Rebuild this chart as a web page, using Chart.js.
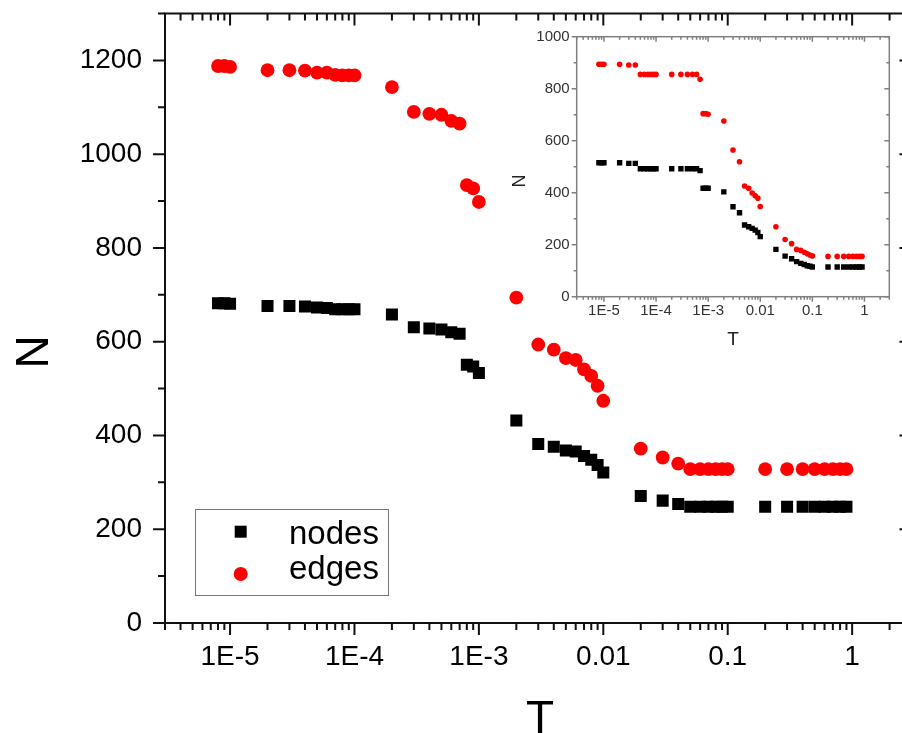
<!DOCTYPE html>
<html lang="en">
<head>
<meta charset="UTF-8" />
<title>N vs T</title>
<script src="https://cdn.jsdelivr.net/npm/chart.js"></script>
<style>
  html, body { margin: 0; padding: 0; background: #fff; overflow: hidden; }
  #wrap { position: relative; width: 902px; height: 733px; overflow: hidden; }
  #mainChart { position: absolute; left: 0; top: 0; }
  #insetChart { position: absolute; left: 480px; top: 26px; }
</style>
</head>
<body>
<div id="wrap">
  <canvas id="mainChart" width="920" height="733"></canvas>
  <canvas id="insetChart" width="420" height="340"></canvas>
</div>
<script>
// ---- data ----
const seriesNames = ["nodes", "edges"];

const tMain = [8e-6, 9e-6, 1e-5,
  2e-5, 3e-5, 4e-5, 5e-5, 6e-5, 7e-5, 8e-5, 9e-5, 1e-4,
  2e-4, 3e-4, 4e-4, 5e-4, 6e-4, 7e-4, 8e-4, 9e-4, 1e-3,
  2e-3, 3e-3, 4e-3, 5e-3, 6e-3, 7e-3, 8e-3, 9e-3, 0.01,
  0.02, 0.03, 0.04, 0.05, 0.06, 0.07, 0.08, 0.09, 0.1,
  0.2, 0.3, 0.4, 0.5, 0.6, 0.7, 0.8, 0.9];
const nodesMain = [682, 682, 681,
  676, 676, 675, 673, 672, 669, 669, 669, 669,
  658, 631, 628, 626, 620, 617, 551, 547, 533,
  432, 382, 376, 368, 366, 356, 348, 337, 321,
  271, 261, 254, 248, 248, 248, 248, 248, 248,
  248, 248, 248, 248, 248, 248, 248, 248];
const edgesMain = [1188, 1188, 1186,
  1179, 1179, 1178, 1174, 1174, 1169, 1168, 1168, 1168,
  1143, 1090, 1086, 1084, 1071, 1065, 934, 927, 898,
  694, 594, 583, 565, 561, 541, 527, 506, 474,
  372, 353, 340, 328, 328, 328, 328, 328, 328,
  328, 328, 328, 328, 328, 328, 328, 328];

const tInset = tMain;
const nodesInset = [515, 515, 515,
  515, 513, 513, 492, 492, 492, 492, 492, 492,
  492, 492, 492, 492, 492, 485, 417, 417, 417,
  403, 346, 323, 276, 269, 263, 256, 247, 231,
  182, 156, 146, 135, 128, 124, 119, 117, 114,
  114, 114, 114, 114, 114, 114, 114, 114];
const edgesInset = [894, 894, 894,
  894, 891, 891, 855, 855, 855, 855, 855, 855,
  855, 855, 855, 855, 855, 836, 704, 704, 702,
  676, 564, 519, 426, 417, 399, 388, 379, 347,
  269, 220, 204, 182, 178, 171, 165, 160, 157,
  155, 155, 155, 155, 155, 155, 155, 155];

const xTickValues = [1e-5, 1e-4, 1e-3, 0.01, 0.1, 1];
const xTickLabels = ["1E-5", "1E-4", "1E-3", "0.01", "0.1", "1"];

// ---- helpers ----
const FONT = "'Liberation Sans', Arial, sans-serif";

function logTicks(min, max) {
  const out = [];
  for (let e = Math.floor(Math.log10(min)); e <= Math.ceil(Math.log10(max)); e++) {
    for (let m = 1; m <= 9; m++) {
      const v = Number((m * Math.pow(10, e)).toPrecision(6));
      if (v >= min * 0.9999 && v <= max * 1.0001) out.push({ value: v });
    }
  }
  return out;
}
const isDecade = v => Math.abs(Math.log10(v) - Math.round(Math.log10(v))) < 1e-6;
function xLabel(v) {
  const i = xTickValues.findIndex(t => Math.abs(t - v) / t < 1e-6);
  return i >= 0 ? xTickLabels[i] : null;
}
const points = (xs, ys) => xs.map((x, i) => ({ x: x, y: ys[i] }));
function noPad(s) { s.paddingTop = 0; s.paddingBottom = 0; s.paddingLeft = 0; s.paddingRight = 0; }

// frame + tick marks: left/bottom ticks point out, top/right point in
const axisFrame = {
  id: "axisFrame",
  afterDraw(chart, args, o) {
    const { ctx, chartArea: a, scales: { x, y } } = chart;
    ctx.save();
    ctx.strokeStyle = o.color;
    ctx.lineWidth = o.lineWidth;
    ctx.strokeRect(a.left, a.top, a.right - a.left, a.bottom - a.top);
    ctx.beginPath();
    (x.allTicks || x.ticks).forEach(t => {
      const px = x.getPixelForValue(t.value);
      const len = isDecade(t.value) ? o.major : o.minor;
      ctx.moveTo(px, a.bottom); ctx.lineTo(px, a.bottom + len);
      ctx.moveTo(px, a.top); ctx.lineTo(px, a.top + len);
    });
    (y.allTicks || y.ticks).forEach(t => {
      const py = y.getPixelForValue(t.value);
      const len = t.value % o.yMajorStep === 0 ? o.major : o.minor;
      ctx.moveTo(a.left, py); ctx.lineTo(a.left - len, py);
      ctx.moveTo(a.right, py); ctx.lineTo(a.right - len, py);
    });
    ctx.stroke();
    ctx.restore();
  }
};

// axis titles and legend box
const decor = {
  id: "decor",
  afterDraw(chart, args, o) {
    const ctx = chart.ctx;
    (o.texts || []).forEach(t => {
      ctx.save();
      ctx.translate(t.x, t.y);
      if (t.rot) ctx.rotate(t.rot);
      ctx.font = t.font;
      ctx.fillStyle = t.color || "#000";
      ctx.textAlign = "center";
      ctx.textBaseline = "alphabetic";
      ctx.fillText(t.text, 0, 0);
      ctx.restore();
    });
    const lg = o.legend;
    if (!lg) return;
    ctx.save();
    ctx.strokeStyle = lg.border;
    ctx.lineWidth = 1;
    ctx.strokeRect(lg.box[0] + 0.5, lg.box[1] + 0.5, lg.box[2], lg.box[3]);
    chart.data.datasets.forEach((ds, i) => {
      const cy = lg.symbolY[i];
      ctx.fillStyle = ds.backgroundColor;
      if (ds.pointStyle === "rect") {
        ctx.fillRect(lg.symbolX - lg.half, cy - lg.half, lg.half * 2, lg.half * 2);
      } else {
        ctx.beginPath();
        ctx.arc(lg.symbolX, cy, lg.half + 1, 0, Math.PI * 2);
        ctx.fill();
      }
      ctx.fillStyle = "#000";
      ctx.font = lg.font;
      ctx.textAlign = "left";
      ctx.textBaseline = "alphabetic";
      ctx.fillText(ds.label, lg.textX, lg.textY[i]);
    });
    ctx.restore();
  }
};

function scatterSet(name, data, style, color, radius) {
  return {
    label: name, data: data, pointStyle: style, pointRadius: radius,
    backgroundColor: color, borderWidth: 0, showLine: false
  };
}

function axes(o) {
  return {
    x: {
      type: "logarithmic", min: 3e-6, max: 3,
      grid: { display: false, drawTicks: false }, border: { display: false },
      afterBuildTicks: s => { s.ticks = logTicks(s.min, s.max); s.allTicks = s.ticks.slice(); },
      afterFit: s => { s.height = o.xHeight; noPad(s); },
      ticks: {
        autoSkip: false, maxRotation: 0, minRotation: 0, padding: o.xPad,
        color: o.labelColor, font: { family: FONT, size: o.fontSize }, callback: xLabel
      }
    },
    y: {
      min: 0, max: o.yMax,
      grid: { display: false, drawTicks: false }, border: { display: false },
      afterBuildTicks: s => { s.allTicks = s.ticks.slice(); },
      afterFit: s => { s.width = o.yWidth; noPad(s); },
      ticks: {
        stepSize: 100, autoSkip: false, padding: o.yPad,
        color: o.labelColor, font: { family: FONT, size: o.fontSize },
        callback: v => (v % 200 === 0 ? String(v) : null)
      }
    }
  };
}

// ---- main chart ----
new Chart(document.getElementById("mainChart"), {
  type: "scatter",
  data: {
    datasets: [
      scatterSet(seriesNames[0], points(tMain, nodesMain), "rect", "#000000", 8.5),
      scatterSet(seriesNames[1], points(tMain, edgesMain), "circle", "#ff0000", 6.9)
    ]
  },
  options: {
    responsive: false,
    animation: false,
    layout: { padding: { left: 0, right: 7, top: 13.5, bottom: 0 } },
    scales: axes({ xHeight: 110, yWidth: 165, xPad: 17, yPad: 23, fontSize: 28, labelColor: "#000", yMax: 1300 }),
    plugins: {
      legend: { display: false },
      tooltip: { enabled: false },
      axisFrame: { color: "#111", lineWidth: 2, major: 12, minor: 7, yMajorStep: 200 },
      decor: {
        texts: [
          { text: "N", x: 48, y: 352, rot: -Math.PI / 2, font: "46px " + FONT },
          { text: "T", x: 540, y: 733, font: "46px " + FONT }
        ],
        legend: {
          box: [195, 509, 193, 86], border: "#777",
          symbolX: 240.7, symbolY: [531.7, 574], half: 6,
          textX: 289, textY: [544, 578.5], font: "33px " + FONT
        }
      }
    }
  },
  plugins: [axisFrame, decor]
});

// ---- inset chart ----
new Chart(document.getElementById("insetChart"), {
  type: "scatter",
  data: {
    datasets: [
      scatterSet(seriesNames[0], points(tInset, nodesInset), "rect", "#000000", 3.8),
      scatterSet(seriesNames[1], points(tInset, edgesInset), "circle", "#ff0000", 2.8)
    ]
  },
  options: {
    responsive: false,
    animation: false,
    layout: { padding: { left: 0, right: 10.7, top: 10.7, bottom: 0 } },
    scales: axes({ xHeight: 69.3, yWidth: 96.7, xPad: 5, yPad: 7, fontSize: 15, labelColor: "#333", yMax: 1000 }),
    plugins: {
      legend: { display: false },
      tooltip: { enabled: false },
      axisFrame: { color: "#808080", lineWidth: 1.5, major: 5, minor: 3, yMajorStep: 200 },
      decor: {
        texts: [
          { text: "N", x: 45, y: 155, rot: -Math.PI / 2, font: "18px " + FONT, color: "#222" },
          { text: "T", x: 253, y: 319, font: "19px " + FONT, color: "#222" }
        ]
      }
    }
  },
  plugins: [axisFrame, decor]
});
</script>
</body>
</html>
